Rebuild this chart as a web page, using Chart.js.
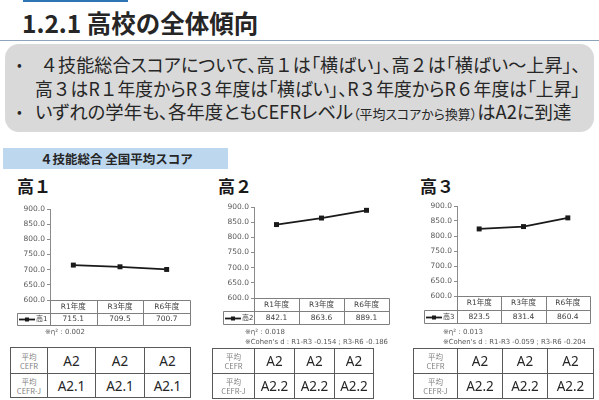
<!DOCTYPE html>
<html><head><meta charset="utf-8">
<script src="https://cdn.jsdelivr.net/npm/chart.js@4"></script>
<style>
html,body{margin:0;padding:0;}
body{width:599px;height:400px;position:relative;overflow:hidden;background:#fff;font-family:"Noto Sans CJK JP","Noto Sans",sans-serif;color:#262626;}
.abs{position:absolute;}
#topbar{left:23px;top:0;width:105px;height:2px;background:#2e75b6;}
#title{left:22px;top:8px;font-size:24.5px;font-weight:bold;line-height:30px;white-space:nowrap;color:#262626;}
#rule{left:0;top:40px;width:599px;height:1px;background:#8ea4b8;}
#box{left:5px;top:44px;width:589px;height:88px;background:#d9d9d9;border-radius:14px;}
.fit{position:absolute;white-space:nowrap;transform-origin:0 50%;}
.line{font-size:18.5px;line-height:22px;font-feature-settings:"palt";color:#262626;}
.line small{font-size:13px;}
.fw{font-feature-settings:normal;}
.bullet{position:absolute;font-size:14px;line-height:22px;color:#262626;}
#band{left:3px;top:148px;width:225px;height:21px;background:#bdd7ee;}
#bandtxt{left:40px;top:148px;font-size:12.5px;font-weight:bold;line-height:21px;color:#262626;}
.grade{position:absolute;font-size:17px;font-weight:bold;line-height:20px;color:#1a1a1a;}
canvas{position:absolute;}
.note{position:absolute;font-family:"DejaVu Sans",sans-serif;font-size:7px;line-height:10px;color:#595959;white-space:nowrap;}
table.cefr{position:absolute;border-collapse:collapse;table-layout:fixed;}
table.cefr td{border:1px solid #595959;text-align:center;padding:0;color:#262626;font-family:"Noto Sans","Noto Sans CJK JP",sans-serif;font-size:13.5px;}
table.cefr td.lab{font-size:7.5px;line-height:9px;color:#7f7f7f;font-family:"Noto Sans CJK JP",sans-serif;}
</style>
</head><body>
<div id="topbar" class="abs"></div>
<div id="title" class="abs">1.2.1 高校の全体傾向</div>
<div id="rule" class="abs"></div>
<div id="box" class="abs"></div>
<div class="bullet" style="left:17px;top:53px;">•</div>
<div class="fit line" data-w="541" style="left:40px;top:53px;">４技能総合スコアについて、高１は「横ばい」、高２は「横ばい～上昇」、</div>
<div class="fit line" data-w="545" style="left:35px;top:77px;">高３はR１年度からR３年度は「横ばい」、R３年度からR６年度は「上昇」</div>
<div class="bullet" style="left:17px;top:100px;">•</div>
<div class="fit line" data-w="536" style="left:35px;top:100px;">いずれの学年も、各年度ともCEFRレベル<small>（平均スコアから換算）</small>はA2に到達</div>

<div id="band" class="abs"></div>
<div id="bandtxt" class="abs fit" data-w="153">４技能総合&nbsp;全国平均スコア</div>

<div id="g1" class="grade" style="left:17px;top:176px;"></div>
<div id="g2" class="grade" style="left:218px;top:176px;"></div>
<div id="g3" class="grade" style="left:420px;top:176px;"></div>

<canvas id="c1" width="198" height="130" style="left:0px;top:199px;"></canvas>
<canvas id="c2" width="190" height="131" style="left:205px;top:197px;"></canvas>
<canvas id="c3" width="190" height="131" style="left:405px;top:196px;"></canvas>

<div id="n1a" class="note" style="left:45px;top:327px;"></div>
<div id="n2a" class="note" style="left:245px;top:327px;"></div>
<div id="n2b" class="note fit" data-w="143" style="left:245px;top:337px;"></div>
<div id="n3a" class="note" style="left:443px;top:327px;"></div>
<div id="n3b" class="note fit" data-w="143" style="left:443px;top:337px;"></div>

<table id="t1" class="cefr" style="left:10px;top:347px;"></table>
<table id="t2" class="cefr" style="left:212px;top:348px;"></table>
<table id="t3" class="cefr" style="left:413px;top:348px;"></table>

<script>
// ---- data ----
const categories = ['R1年度', 'R3年度', 'R6年度'];
const yTickValues = [600.0, 650.0, 700.0, 750.0, 800.0, 850.0, 900.0];
const scoreKou1 = [715.1, 709.5, 700.7];
const scoreKou2 = [842.1, 863.6, 889.1];
const scoreKou3 = [823.5, 831.4, 860.4];
const seriesNames = ['高1', '高2', '高3'];
const gradeTitles = ['高１', '高２', '高３'];
const etaSquared = ['0.002', '0.018', '0.013'];
const cohenR1R3 = [null, '-0.154', '-0.059'];
const cohenR3R6 = [null, '-0.186', '-0.204'];
const cefrRowLabels = ['平均<br>CEFR', '平均<br>CEFR-J'];
const cefrKou1 = ['A2', 'A2', 'A2'];
const cefrJKou1 = ['A2.1', 'A2.1', 'A2.1'];
const cefrKou2 = ['A2', 'A2', 'A2'];
const cefrJKou2 = ['A2.2', 'A2.2', 'A2.2'];
const cefrKou3 = ['A2', 'A2', 'A2'];
const cefrJKou3 = ['A2.2', 'A2.2', 'A2.2'];

// ---- texts ----
gradeTitles.forEach((t, i) => document.getElementById('g' + (i + 1)).textContent = t);
document.getElementById('n1a').textContent = '※η² : ' + etaSquared[0];
document.getElementById('n2a').textContent = '※η² : ' + etaSquared[1];
document.getElementById('n3a').textContent = '※η² : ' + etaSquared[2];
document.getElementById('n2b').textContent = "※Cohen's d : R1-R3 " + cohenR1R3[1] + ' ; R3-R6 ' + cohenR3R6[1];
document.getElementById('n3b').textContent = "※Cohen's d : R1-R3 " + cohenR1R3[2] + ' ; R3-R6 ' + cohenR3R6[2];

document.querySelectorAll('.line').forEach(el => {
  el.innerHTML = el.innerHTML.replace(/[０-９]/g, '<span class="fw">$&</span>');
});

function buildTable(id, widths, heights, rowA, rowB) {
  const t = document.getElementById(id);
  let h = '<colgroup>' + widths.map(w => '<col style="width:' + w + 'px">').join('') + '</colgroup>';
  [rowA, rowB].forEach((row, r) => {
    h += '<tr style="height:' + heights[r] + 'px"><td class="lab">' + cefrRowLabels[r] + '</td>' +
      row.map(v => '<td>' + v + '</td>').join('') + '</tr>';
  });
  t.innerHTML = h;
  t.style.width = widths.reduce((a, b) => a + b, 0) + 'px';
}
buildTable('t1', [37, 48, 49, 46], [26, 24], cefrKou1, cefrJKou1);
buildTable('t2', [42, 40, 40, 39], [25, 25], cefrKou2, cefrJKou2);
buildTable('t3', [44, 45, 45, 46], [25, 25], cefrKou3, cefrJKou3);

function fitAll() {
  document.querySelectorAll('.fit').forEach(el => {
    const target = parseFloat(el.dataset.w);
    const w = el.scrollWidth;
    if (w > 0) el.style.transform = 'scaleX(' + (target / w) + ')';
  });
}
fitAll();

// ---- charts ----
const tableFont = '7.5px "DejaVu Sans", "Noto Sans CJK JP", sans-serif';
const tablePlugin = {
  id: 'dataTable',
  afterDraw(chart, args, opts) {
    const ctx = chart.ctx, a = chart.chartArea, xs = chart.scales.x;
    const labels = chart.data.labels, ds = chart.data.datasets[0];
    const n = labels.length;
    const centers = labels.map((_, i) => xs.getPixelForValue(i));
    const bounds = [a.left];
    for (let i = 1; i < n; i++) bounds.push((centers[i - 1] + centers[i]) / 2);
    bounds.push(a.right);
    const r0 = a.bottom, r2 = a.bottom + opts.tableH, r1 = Math.round((r0 + r2) / 2);
    const L = opts.legendLeft;
    const p = v => Math.round(v) + 0.5;
    ctx.save();
    ctx.strokeStyle = '#7f7f7f';
    ctx.lineWidth = 1;
    ctx.beginPath();
    ctx.moveTo(p(a.left), p(r0)); ctx.lineTo(p(a.right), p(r0));
    ctx.moveTo(p(L), p(r1)); ctx.lineTo(p(a.right), p(r1));
    ctx.moveTo(p(L), p(r2)); ctx.lineTo(p(a.right), p(r2));
    bounds.forEach(b => { ctx.moveTo(p(b), p(r0)); ctx.lineTo(p(b), p(r2)); });
    ctx.moveTo(p(L), p(r1)); ctx.lineTo(p(L), p(r2));
    ctx.stroke();
    ctx.fillStyle = '#404040';
    ctx.font = tableFont;
    ctx.textAlign = 'center';
    ctx.textBaseline = 'middle';
    labels.forEach((lab, i) => ctx.fillText(lab, centers[i], (r0 + r1) / 2 + 0.5));
    ds.data.forEach((v, i) => ctx.fillText(v.toFixed(1), centers[i], (r1 + r2) / 2 + 0.5));
    // legend key
    const ym = Math.round((r1 + r2) / 2) + 0.5;
    ctx.strokeStyle = '#1a1a1a';
    ctx.lineWidth = 1.8;
    ctx.beginPath(); ctx.moveTo(L + 2, ym); ctx.lineTo(L + 18, ym); ctx.stroke();
    ctx.fillStyle = '#1a1a1a';
    ctx.fillRect(L + 8, ym - 2, 4, 4);
    ctx.fillStyle = '#404040';
    ctx.font = '7px "DejaVu Sans", "Noto Sans CJK JP", sans-serif';
    ctx.textAlign = 'left';
    ctx.fillText(ds.label, L + 19, ym);
    ctx.restore();
  }
};

function makeChart(id, values, name, g) {
  return new Chart(document.getElementById(id), {
    type: 'line',
    data: {
      labels: categories,
      datasets: [{
        label: name, data: values,
        borderColor: '#1a1a1a', backgroundColor: '#1a1a1a', borderWidth: 1.8,
        pointStyle: 'rect', pointRadius: 3.5, pointBorderWidth: 0,
        pointBackgroundColor: '#1a1a1a', tension: 0, fill: false
      }]
    },
    options: {
      responsive: false, animation: false, devicePixelRatio: 1,
      layout: { padding: { left: 0, right: g.padR, top: g.padT, bottom: g.padB } },
      plugins: {
        legend: { display: false }, tooltip: { enabled: false },
        dataTable: { tableH: g.tableH, legendLeft: g.legendLeft }
      },
      scales: {
        x: {
          type: 'category', offset: true,
          grid: { display: false }, border: { display: false },
          ticks: { display: false },
          afterFit(s) { s.height = g.tableH; }
        },
        y: {
          min: yTickValues[0], max: yTickValues[yTickValues.length - 1],
          afterBuildTicks(s) { s.ticks = yTickValues.map(v => ({ value: v })); },
          ticks: {
            callback: v => Number(v).toFixed(1),
            font: { family: 'DejaVu Sans', size: 7.5 }, color: '#595959', padding: 2
          },
          grid: { drawOnChartArea: false, drawTicks: true, tickLength: 3, color: '#8c8c8c' },
          border: { display: true, color: '#8c8c8c', width: 1 },
          afterFit(s) { s.width = g.axisW; }
        }
      }
    },
    plugins: [tablePlugin]
  });
}

makeChart('c1', scoreKou1, seriesNames[0], { axisW: 50, padR: 8, padT: 10, padB: 4, tableH: 25, legendLeft: 17 });
makeChart('c2', scoreKou2, seriesNames[1], { axisW: 49, padR: 6, padT: 10, padB: 4, tableH: 26, legendLeft: 18 });
makeChart('c3', scoreKou3, seriesNames[2], { axisW: 52, padR: 5, padT: 10, padB: 4, tableH: 27, legendLeft: 19 });
</script>
</body></html>
